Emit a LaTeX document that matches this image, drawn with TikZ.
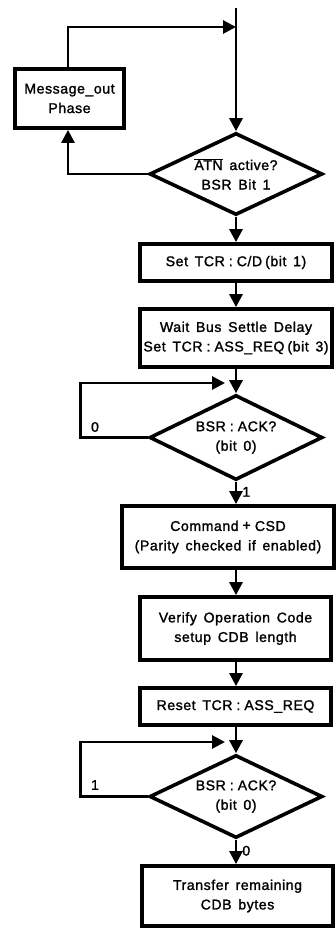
\documentclass[tikz,border=0pt]{standalone}
\usepackage{fontspec}
\setmainfont{Liberation Sans}[LetterSpace=4, WordSpace=1.5]
\newfontfamily\medfont{Liberation Sans}[LetterSpace=4, WordSpace=1.5, FakeBold=1.5]
\usetikzlibrary{shapes.geometric,arrows.meta,calc}
\newcommand{\cln}{\hspace{4pt}:\hspace{4pt}}
\begin{document}
\begin{tikzpicture}[x=1pt,y=-1pt,
  txt/.style={font=\fontsize{14.1}{19.5}\medfont},
  box/.style={draw, line width=3.8pt, inner sep=0pt, align=center, txt},
  dec/.style={draw, shape=diamond, aspect=2.1, line width=3.6pt, inner sep=0pt, minimum width=173pt, align=center, txt},
  conn/.style={line width=2.8pt},
  arr/.style={conn, -{Triangle[length=13pt,width=13pt]}},
  lab/.style={font=\fontsize{14}{15}\medfont, inner sep=0pt}
]
\useasboundingbox (0,0) rectangle (336,928);

\coordinate (top) at (236,8);
\node[box, minimum width=109pt, minimum height=59pt] (msg) at (69.5,98.5) {Message\_out\\Phase};
\node[dec, minimum height=82pt] (d1) at (236,174) {$\overline{\mbox{\medfont ATN}}$ active?\\BSR Bit 1};
\node[box, minimum width=192pt, minimum height=37pt] (tcr) at (236,262.5) {Set TCR\cln C/D\hspace{3pt}(bit 1)};
\node[box, minimum width=192pt, minimum height=58pt] (wait) at (236,338) {Wait Bus Settle Delay\\Set TCR\cln ASS\_REQ\hspace{3pt}(bit 3)};
\node[dec, minimum height=85pt] (d2) at (236,437.5) {BSR\cln ACK?\\(bit 0)};
\node[box, minimum width=212pt, minimum height=62pt] (cmd) at (228,537) {Command\hspace{4pt}{\fontspec{Liberation Sans Bold}+}\hspace{4pt}CSD\\(Parity checked if enabled)};
\node[box, minimum width=191pt, minimum height=63pt] (ver) at (235.5,628.5) {Verify Operation Code\\setup CDB length};
\node[box, minimum width=191pt, minimum height=37pt] (rst) at (235.5,706.5) {Reset TCR\cln ASS\_REQ};
\node[dec, minimum height=83pt] (d3) at (236,796.5) {BSR\cln ACK?\\(bit 0)};
\node[box, minimum width=191pt, minimum height=60pt] (fin) at (237.5,896) {Transfer remaining\\CDB bytes};

\coordinate (j1) at (236,27);
\coordinate (j2) at (225,383);
\coordinate (j3) at (225,742);

% main flow
\draw[arr] (top) -- (d1.north);
\draw[arr] (d1.south) -- (tcr.north);
\draw[arr] (tcr.south) -- (wait.north);
\draw[arr] (wait.south) -- (d2.north);
\draw[arr] (d2.south) -- (d2.south |- cmd.north) node[lab, pos=0.45, right=5pt] {1};
\draw[arr] (cmd.south -| d2) -- (ver.north -| d2);
\draw[arr] (ver.south -| d2) -- (rst.north -| d2);
\draw[arr] (rst.south -| d2) -- (d3.north);
\draw[arr] (d3.south) -- (d3.south |- fin.north) node[lab, pos=0.45, right=5pt] {0};

% loops
\draw[arr] ([xshift=-1.5pt]msg.north) |- (j1);
\draw[arr] (d1.west) -| ([xshift=-1.5pt]msg.south);
\draw[arr] (d2.west) -- ++(-67,0) |- (j2);
\node[lab] at (95,427) {0};
\draw[arr] (d3.west) -- ++(-67,0) |- (j3);
\node[lab] at (95,785) {1};
\end{tikzpicture}
\end{document}
